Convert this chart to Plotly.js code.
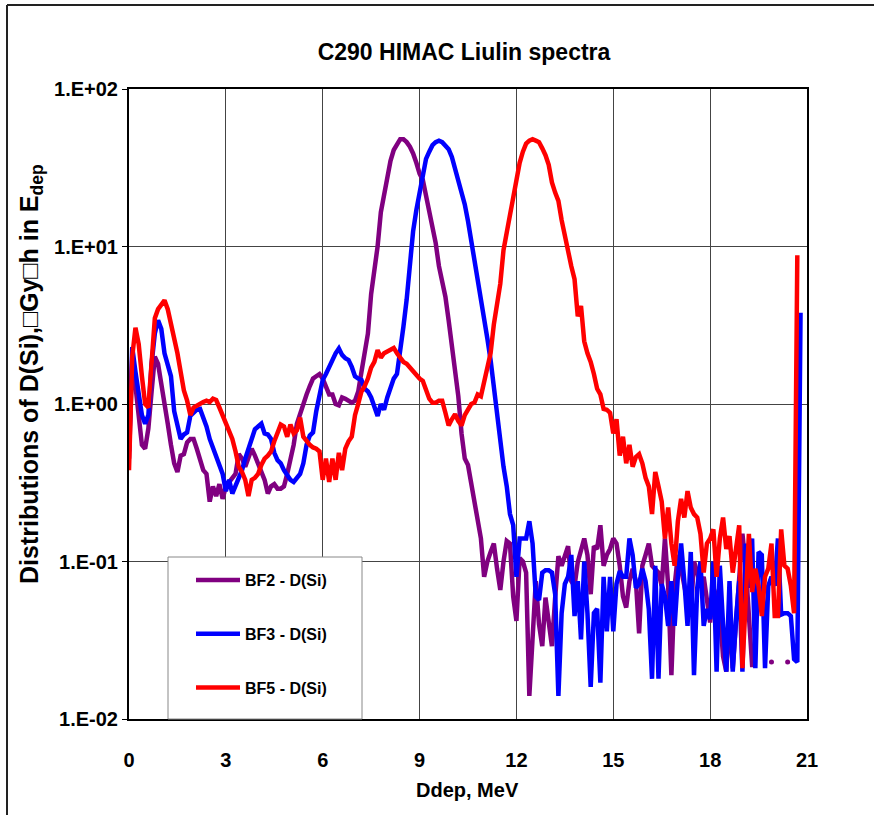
<!DOCTYPE html>
<html>
<head>
<meta charset="utf-8">
<script src="https://cdn.plot.ly/plotly-3.0.1.min.js"></script>
<style>
html,body{margin:0;padding:0;background:#fff;}
#chart{width:874px;height:815px;}
</style>
</head>
<body>
<div id="chart"></div>
<script>
// Deposited energy, MeV (channel centres)
const energy = [
0.0,0.1,0.2,0.3,0.4,0.5,0.6,0.7,0.8,0.9,
1.0,1.1,1.2,1.3,1.4,1.5,1.6,1.7,1.8,1.9,
2.0,2.1,2.2,2.3,2.4,2.5,2.6,2.7,2.8,2.9,
3.0,3.1,3.2,3.3,3.4,3.5,3.6,3.7,3.8,3.9,
4.0,4.1,4.2,4.3,4.4,4.5,4.6,4.7,4.8,4.9,
5.0,5.1,5.2,5.3,5.4,5.5,5.6,5.7,5.8,5.9,
6.0,6.1,6.2,6.3,6.4,6.5,6.6,6.7,6.8,6.9,
7.0,7.1,7.2,7.3,7.4,7.5,7.6,7.7,7.8,7.9,
8.0,8.1,8.2,8.3,8.4,8.5,8.6,8.7,8.8,8.9,
9.0,9.1,9.2,9.3,9.4,9.5,9.6,9.7,9.8,9.9,
10.0,10.1,10.2,10.3,10.4,10.5,10.6,10.7,10.8,10.9,
11.0,11.1,11.2,11.3,11.4,11.5,11.6,11.7,11.8,11.9,
12.0,12.1,12.2,12.3,12.4,12.5,12.6,12.7,12.8,12.9,
13.0,13.1,13.2,13.3,13.4,13.5,13.6,13.7,13.8,13.9,
14.0,14.1,14.2,14.3,14.4,14.5,14.6,14.7,14.8,14.9,
15.0,15.1,15.2,15.3,15.4,15.5,15.6,15.7,15.8,15.9,
16.0,16.1,16.2,16.3,16.4,16.5,16.6,16.7,16.8,16.9,
17.0,17.1,17.2,17.3,17.4,17.5,17.6,17.7,17.8,17.9,
18.0,18.1,18.2,18.3,18.4,18.5,18.6,18.7,18.8,18.9,
19.0,19.1,19.2,19.3,19.4,19.5,19.6,19.7,19.8,19.9,
20.0,20.1,20.2,20.3,20.4,20.5,20.6,20.7,20.8
];

// BF2 - D(Si)
const bf2 = [
0.45,1.9,1.3,0.8,0.55,0.52,0.7,1.2,2.0,1.8,
1.35,1.1,0.75,0.55,0.42,0.37,0.47,0.48,0.57,0.6,
0.6,0.52,0.43,0.38,0.36,0.24,0.3,0.26,0.31,0.25,
0.3,0.32,0.34,0.36,0.48,0.45,0.4,0.45,0.52,0.47,
0.42,0.37,0.33,0.27,0.3,0.31,0.29,0.29,0.3,0.36,
0.45,0.55,0.75,0.88,1.0,1.15,1.3,1.45,1.5,1.55,
1.45,1.3,1.15,1.15,1.0,0.98,1.1,1.08,1.04,1.02,
1.05,1.2,1.6,2.1,2.8,5.0,7.0,10,16.5,21,
29,35,41,45,48,48,46,43,39,34,
29,26.5,21,17,14,10.5,7.5,6,4.8,3.4,
2.3,1.7,1.12,0.65,0.45,0.41,0.32,0.24,0.18,0.14,
0.08,0.1,0.115,0.13,0.09,0.066,0.1,0.135,0.13,0.06,
0.042,0.105,0.1,0.085,0.014,0.03,0.075,0.04,0.029,0.059,
0.04,0.029,0.059,0.108,0.094,0.108,0.125,0.075,0.07,0.099,
0.12,0.14,0.11,0.062,0.125,0.12,0.17,0.094,0.11,0.12,
0.14,0.13,0.094,0.06,0.051,0.075,0.09,0.075,0.035,0.094,
0.11,0.13,0.094,0.09,0.085,0.07,0.14,0.07,0.019,0.07,
0.11,0.09,0.068,0.055,0.047,0.1,0.085,0.07,0.08,0.06,
0.041,0.068,0.06,0.047,0.025,0.02,0.047,0.021,0.041,0.09,
0.15,0.094,0.043,0.022,0.022,null,null,null,null,0.023,
null,null,null,null,0.023,null,null,null,null
];

// BF3 - D(Si)
const bf3 = [
0.5,2.3,1.6,1.1,0.85,0.75,0.85,1.8,2.8,3.4,
3.0,2.1,1.8,1.5,0.9,0.72,0.6,0.64,0.66,0.84,
0.88,0.92,0.93,0.82,0.72,0.6,0.53,0.47,0.4,0.36,
0.28,0.33,0.27,0.3,0.33,0.38,0.45,0.52,0.6,0.69,
0.72,0.75,0.65,0.64,0.6,0.49,0.44,0.42,0.38,0.35,
0.33,0.32,0.34,0.36,0.42,0.55,0.63,0.66,0.9,1.15,
1.42,1.55,1.72,1.95,2.1,2.25,2.05,1.95,1.9,1.72,
1.5,1.45,1.42,1.25,1.2,1.1,0.98,0.84,1.0,0.92,
1.1,1.25,1.45,1.55,2.1,3.1,4.6,8,12.5,17,
22.5,28.5,36,40,44,46,47,46,44,41.5,
37,31,27,23,18.5,14.5,11,8,5.8,4.7,
3.6,2.6,1.9,1.3,0.8,0.56,0.4,0.3,0.2,0.17,
0.08,0.14,0.14,0.14,0.18,0.13,0.06,0.057,0.085,0.088,
0.088,0.085,0.062,0.014,0.047,0.072,0.08,0.11,0.045,0.075,
0.032,0.1,0.047,0.016,0.047,0.05,0.017,0.08,0.036,0.08,
0.036,0.072,0.087,0.08,0.08,0.14,0.11,0.068,0.072,0.09,
0.075,0.05,0.018,0.094,0.018,0.072,0.06,0.039,0.075,0.039,
0.08,0.13,0.075,0.039,0.115,0.019,0.068,0.1,0.039,0.05,
0.043,0.1,0.02,0.094,0.04,0.02,0.075,0.02,0.043,0.075,
0.02,0.13,0.068,0.14,0.021,0.115,0.11,0.021,0.07,0.08,
0.07,0.14,0.046,0.047,0.047,0.045,0.024,0.023,3.8
];

// BF5 - D(Si)
const bf5 = [
0.38,2.0,3.05,2.4,1.5,1.0,0.95,1.9,3.5,4.0,
4.3,4.55,4.0,3.3,2.6,2.1,1.6,1.22,1.05,0.85,
0.95,0.98,1.0,1.03,1.05,1.03,1.08,1.06,0.95,0.85,
0.75,0.66,0.6,0.5,0.4,0.37,0.33,0.26,0.33,0.34,
0.36,0.41,0.45,0.47,0.5,0.58,0.65,0.74,0.72,0.62,
0.74,0.65,0.68,0.82,0.62,0.58,0.55,0.53,0.52,0.5,
0.33,0.45,0.32,0.45,0.33,0.49,0.38,0.52,0.58,0.62,
0.85,1.0,1.2,1.3,1.45,1.7,1.85,2.2,1.97,2.1,
2.15,2.2,2.27,2.1,1.95,1.85,1.8,1.7,1.62,1.52,
1.45,1.4,1.2,1.08,1.02,1.02,1.05,1.05,0.88,0.73,
0.8,0.86,0.78,0.73,0.85,0.93,1.0,1.02,1.15,1.12,
1.4,1.7,2.1,3.2,4.3,5.8,9.5,12.5,15,21,
26.5,34,40,45,47,48,47,46,42,38,
33,25.5,22,19.5,14.7,11.5,9.3,7.5,6.2,3.6,
4.2,2.5,2.1,1.85,1.55,1.25,1.15,0.93,0.92,0.88,
0.65,0.8,0.47,0.62,0.42,0.55,0.4,0.46,0.48,0.42,
0.34,0.3,0.2,0.37,0.3,0.24,0.14,0.22,0.13,0.094,
0.18,0.25,0.19,0.28,0.22,0.2,0.19,0.15,0.085,0.13,
0.14,0.16,0.08,0.14,0.19,0.12,0.145,0.085,0.12,0.17,
0.021,0.063,0.15,0.064,0.09,0.07,0.045,0.08,0.09,0.13,
0.045,0.045,0.16,0.094,0.09,0.07,0.047,8.8,null
];

const seriesNames = ['BF2 - D(Si)', 'BF3 - D(Si)', 'BF5 - D(Si)'];
const seriesColors = ['#800080', '#0000FF', '#FF0000'];
const xTicks = [0, 3, 6, 9, 12, 15, 18, 21];
const yTickVals = [0.01, 0.1, 1, 10, 100];
const yTickText = ['1.E-02', '1.E-01', '1.E+00', '1.E+01', '1.E+02'];

const FONT = 'Liberation Sans, Arial, Helvetica, sans-serif';

const allSeries = [bf2, bf3, bf5];
const traces = [];
allSeries.forEach((ys, i) => {
  traces.push({
    x: energy, y: ys, type: 'scatter', mode: 'lines',
    name: '<b>' + seriesNames[i] + '</b>', legendgroup: 'g' + i,
    line: {color: seriesColors[i], width: 4.5},
    connectgaps: false
  });
});
// isolated points (neighbours empty) shown as dots
allSeries.forEach((ys, i) => {
  const dx = [], dy = [];
  ys.forEach((v, k) => {
    if (v != null && (k === 0 || ys[k-1] == null) && (k === ys.length-1 || ys[k+1] == null)) {
      dx.push(energy[k]); dy.push(v);
    }
  });
  if (dx.length) traces.push({x: dx, y: dy, type: 'scatter', mode: 'markers',
    marker: {color: seriesColors[i], size: 5}, showlegend: false, hoverinfo: 'skip'});
});

const L = 129, R = 807, T = 89, B = 719, W = 874, H = 815;
const pw = R - L, ph = B - T;
const px = v => (v - L) / pw;
const py = v => (B - v) / ph;

const layout = {
  width: W, height: H,
  margin: {l: L, r: W - R, t: T, b: H - B},
  paper_bgcolor: '#fff', plot_bgcolor: '#fff',
  showlegend: true,
  title: {text: '<b>C290 HIMAC Liulin spectra</b>', x: 464 / W, xanchor: 'center',
          y: 1 - 52 / H, yanchor: 'middle', yref: 'container',
          font: {family: FONT, size: 23, color: '#000'}},
  xaxis: {
    range: [0, 21], tickvals: xTicks, ticktext: xTicks.map(v => '<b>' + v + '</b>'),
    showgrid: true, gridcolor: '#444', gridwidth: 1,
    showline: true, linecolor: '#000', linewidth: 2, mirror: true,
    ticks: '', ticklabelstandoff: 22, zeroline: false,
    tickfont: {family: FONT, size: 20, color: '#000'}
  },
  yaxis: {
    type: 'log', range: [-2, 2], tickvals: yTickVals,
    ticktext: yTickText.map(t => '<b>' + t + '</b>'),
    showgrid: true, gridcolor: '#444', gridwidth: 1,
    showline: true, linecolor: '#000', linewidth: 2, mirror: true,
    ticks: 'outside', ticklen: 5, tickcolor: '#000', tickwidth: 1,
    zeroline: false,
    tickfont: {family: FONT, size: 20, color: '#000'}
  },
  legend: {
    x: px(191), y: py(563), xanchor: 'left', yanchor: 'top',
    bgcolor: 'rgba(0,0,0,0)', borderwidth: 0,
    traceorder: 'grouped', tracegroupgap: 30, itemwidth: 44,
    font: {family: FONT, size: 16, color: '#000'}
  },
  annotations: [
    {text: '<b>Distributions of D(Si),\u25A1Gy\u25A1h in E<sub>dep</sub></b>', textangle: -90,
     xref: 'paper', yref: 'paper', x: px(31), y: py(374), xanchor: 'center', yanchor: 'middle',
     showarrow: false, font: {family: FONT, size: 25, color: '#000'}},
    {text: '<b>Ddep, MeV</b>', xref: 'paper', yref: 'paper', x: px(467), y: py(790),
     xanchor: 'center', yanchor: 'middle', showarrow: false,
     font: {family: FONT, size: 20, color: '#000'}}
  ],
  shapes: [
    {type: 'line', xref: 'paper', yref: 'paper', x0: px(7), x1: px(874), y0: py(5), y1: py(5),
     line: {color: '#222', width: 2}, layer: 'below'},
    {type: 'line', xref: 'paper', yref: 'paper', x0: px(7), x1: px(7), y0: py(5), y1: py(815),
     line: {color: '#222', width: 2}, layer: 'below'},
    {type: 'rect', xref: 'paper', yref: 'paper', x0: px(168), x1: px(362), y0: py(719), y1: py(557),
     line: {color: '#888', width: 1}, fillcolor: '#fff', layer: 'above'}
  ]
};

Plotly.newPlot('chart', traces, layout, {displayModeBar: false, staticPlot: true});
</script>
</body>
</html>
